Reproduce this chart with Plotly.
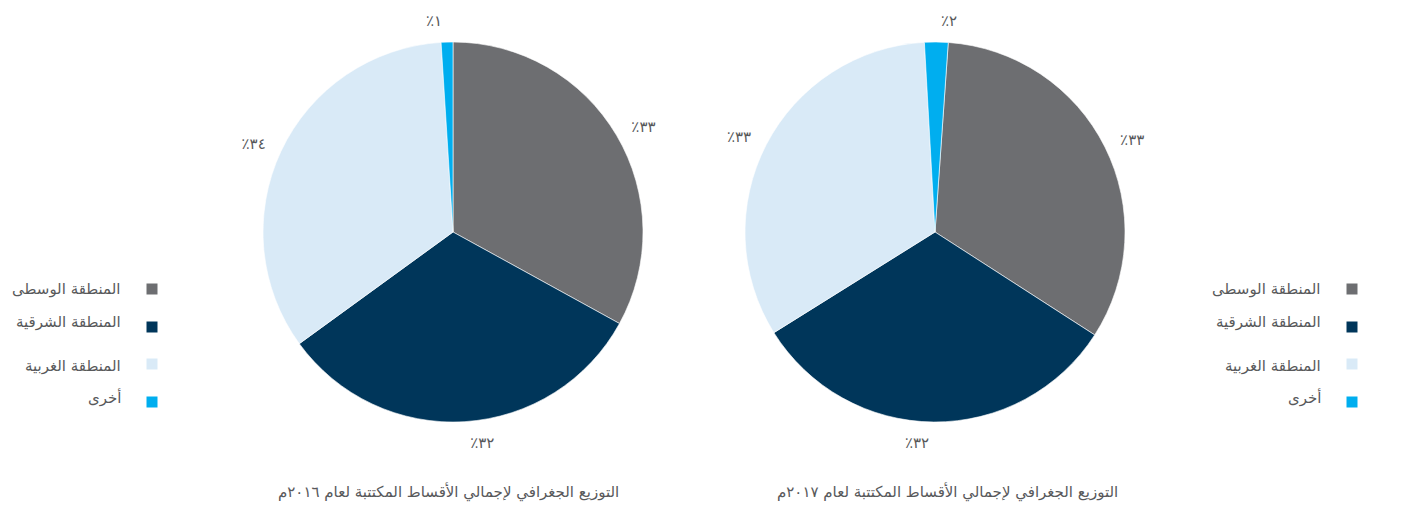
import plotly.graph_objects as go

regions = ["المنطقة الوسطى", "المنطقة الشرقية", "المنطقة الغربية", "أخرى"]
values_2016 = [33, 32, 34, 1]
values_2017 = [33, 32, 33, 2]
labels_2016 = ["٪٣٣", "٪٣٢", "٪٣٤", "٪١"]
labels_2017 = ["٪٣٣", "٪٣٢", "٪٣٣", "٪٢"]
title_2016 = "التوزيع الجغرافي لإجمالي الأقساط المكتتبة لعام ٢٠١٦م"
title_2017 = "التوزيع الجغرافي لإجمالي الأقساط المكتتبة لعام ٢٠١٧م"
colors = ["#6d6e71", "#00365a", "#d9eaf7", "#00aeef"]

OFF = 8  # page body margin
W, H = 1413 - OFF, 506 - OFF
FONT = "DejaVu Sans"
TXT = "#58595b"

def px_x(x):
    return (x - OFF) / W

def px_y(y):
    return 1 - (y - OFF) / H

fig = go.Figure()

def add_pie(values, texts, cx, cy, r, rotation):
    # the coloured pie
    fig.add_trace(go.Pie(
        labels=regions, values=values,
        textinfo="none",
        sort=False, direction="clockwise", rotation=rotation,
        marker=dict(colors=colors, line=dict(color="white", width=0.6)),
        showlegend=False, hoverinfo="label+percent",
        domain=dict(x=[px_x(cx - r), px_x(cx + r)], y=[px_y(cy + r), px_y(cy - r)]),
    ))
    # transparent ring carrying the percentage labels a bit further out
    rl = r + 12
    fig.add_trace(go.Pie(
        labels=regions, values=values, text=texts,
        textinfo="text", textposition="outside",
        sort=False, direction="clockwise", rotation=rotation,
        marker=dict(colors=["rgba(0,0,0,0)"] * 4, line=dict(width=0)),
        outsidetextfont=dict(family=FONT, size=15, color=TXT),
        showlegend=False, hoverinfo="skip",
        domain=dict(x=[px_x(cx - rl), px_x(cx + rl)], y=[px_y(cy + rl), px_y(cy - rl)]),
    ))

add_pie(values_2016, labels_2016, 453, 232, 190, 0)
add_pie(values_2017, labels_2017, 935, 232, 190, 4)

# legends (RTL: text left of square)
text_y = [289, 322, 366, 397]
sq_y = [289, 327, 364, 402]
for text_right, sq_x in [(123, 152), (1323, 1352)]:
    for name, c, ty, sy in zip(regions, colors, text_y, sq_y):
        fig.add_annotation(x=px_x(text_right), y=px_y(ty), xref="paper", yref="paper",
                           text=name, showarrow=False, xanchor="right", yanchor="middle",
                           font=dict(family=FONT, size=15, color=TXT))
        fig.add_shape(type="rect", xref="paper", yref="paper",
                      x0=px_x(sq_x - 5.5), x1=px_x(sq_x + 5.5),
                      y0=px_y(sy + 5.5), y1=px_y(sy - 5.5),
                      fillcolor=c, line=dict(width=0))

for t, cx in [(title_2016, 449), (title_2017, 948)]:
    fig.add_annotation(x=px_x(cx), y=px_y(492), xref="paper", yref="paper",
                       text=t, showarrow=False, xanchor="center", yanchor="middle",
                       font=dict(family=FONT, size=15, color=TXT))

fig.update_layout(width=W, height=H, margin=dict(l=0, r=0, t=0, b=0),
                  paper_bgcolor="white", plot_bgcolor="white")

fig.write_html("out.html")
